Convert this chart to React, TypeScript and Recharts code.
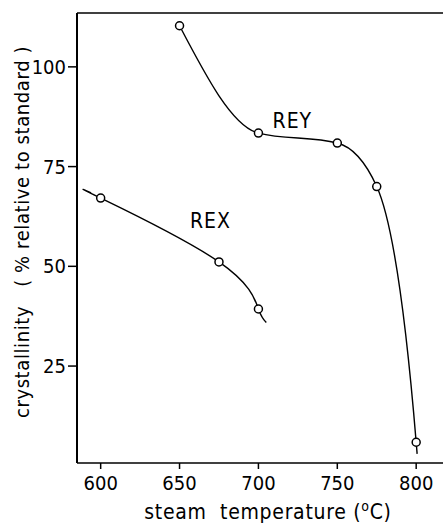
import { LineChart, Line, XAxis, YAxis, ReferenceLine, ReferenceDot, Label } from "recharts";

const reyTemp = [650, 700, 750, 775, 800];
const reyCryst = [110.3, 83.4, 80.9, 70.0, 5.9];
const rexTemp = [600, 675, 700];
const rexCryst = [67.1, 51.1, 39.3];

// where the hand-drawn curves run past the first / last point
const reyTail = { t: 800.6, v: 3 };
const rexLead = { t: 594, v: 68.4 };
const rexTail = { t: 705, v: 35.9 };

const xTicks = [600, 650, 700, 750, 800];
const yTicks = [25, 50, 75, 100];
const xDomain = [585, 817];
const yDomain = [0.7, 113.5];

const reyLabel = { t: 721.5, v: 86.5, text: "REY" };
const rexLabel = { t: 669.6, v: 61.4, text: "REX" };

const font = "'Liberation Sans Narrow', 'Arial Narrow', 'DejaVu Sans Condensed', sans-serif";

const reyData = [
  ...reyTemp.map((t, i) => ({ t, v: reyCryst[i], measured: true })),
  { ...reyTail, measured: false },
];
const rexData = [
  { ...rexLead, measured: false },
  ...rexTemp.map((t, i) => ({ t, v: rexCryst[i], measured: true })),
  { ...rexTail, measured: false },
];

const OpenDot = (props: any) => {
  const { cx, cy, payload, index } = props;
  if (!payload.measured) return <g key={"d" + index} />;
  return <circle key={"d" + index} cx={cx} cy={cy} r={4} fill="#fff" stroke="#000" strokeWidth={1.5} />;
};

const tickStyle = { fill: "#000", fontSize: 20, fontFamily: font };

export default function App() {
  return (
    <div style={{ position: "absolute", left: 0, top: 0, background: "#fff" }}>
      <LineChart width={443} height={524} margin={{ top: 13, right: 0, bottom: 0, left: 0 }}>
        <XAxis
          type="number"
          dataKey="t"
          domain={xDomain}
          ticks={xTicks}
          allowDataOverflow
          height={61}
          tickSize={6}
          tickMargin={7}
          tick={tickStyle}
          axisLine={{ stroke: "#000", strokeWidth: 1.5 }}
          tickLine={{ stroke: "#000", strokeWidth: 1.5 }}
        >
          <Label
            content={() => (
              <text
                x={268}
                y={519}
                textAnchor="middle"
                fill="#000"
                fontSize={21}
                fontFamily={font}
                letterSpacing={0.7}
                style={{ whiteSpace: "pre" }}
              >
                {"steam  temperature ("}
                <tspan dy={-8} fontSize={14}>o</tspan>
                <tspan dy={8}>{"C)"}</tspan>
              </text>
            )}
          />
        </XAxis>
        <YAxis
          type="number"
          domain={yDomain}
          ticks={yTicks}
          allowDataOverflow
          width={77}
          tickSize={9}
          tickMargin={2}
          tick={tickStyle}
          axisLine={{ stroke: "#000", strokeWidth: 2 }}
          tickLine={{ stroke: "#000", strokeWidth: 1.5 }}
        >
          <Label
            content={() => (
              <text
                transform="rotate(-90)"
                x={-232}
                y={29}
                textAnchor="middle"
                fill="#000"
                fontSize={20}
                fontFamily={font}
                letterSpacing={0.6}
                style={{ whiteSpace: "pre" }}
              >
                {"crystallinity   ( % relative to standard )"}
              </text>
            )}
          />
        </YAxis>
        <ReferenceLine y={yDomain[1]} stroke="#000" strokeWidth={1.5} ifOverflow="visible" />
        <Line
          data={reyData}
          dataKey="v"
          type="monotone"
          stroke="#000"
          strokeWidth={1.4}
          dot={OpenDot}
          activeDot={false}
          isAnimationActive={false}
        />
        <Line
          data={rexData}
          dataKey="v"
          type="natural"
          stroke="#000"
          strokeWidth={1.4}
          dot={OpenDot}
          activeDot={false}
          isAnimationActive={false}
        />
        <ReferenceDot
          x={reyLabel.t}
          y={reyLabel.v}
          r={0}
          stroke="none"
          fill="none"
          label={{ value: reyLabel.text, position: "center", fill: "#000", fontSize: 21, fontFamily: font, letterSpacing: 1 }}
        />
        <ReferenceDot
          x={rexLabel.t}
          y={rexLabel.v}
          r={0}
          stroke="none"
          fill="none"
          label={{ value: rexLabel.text, position: "center", fill: "#000", fontSize: 21, fontFamily: font, letterSpacing: 1 }}
        />
      </LineChart>
    </div>
  );
}
